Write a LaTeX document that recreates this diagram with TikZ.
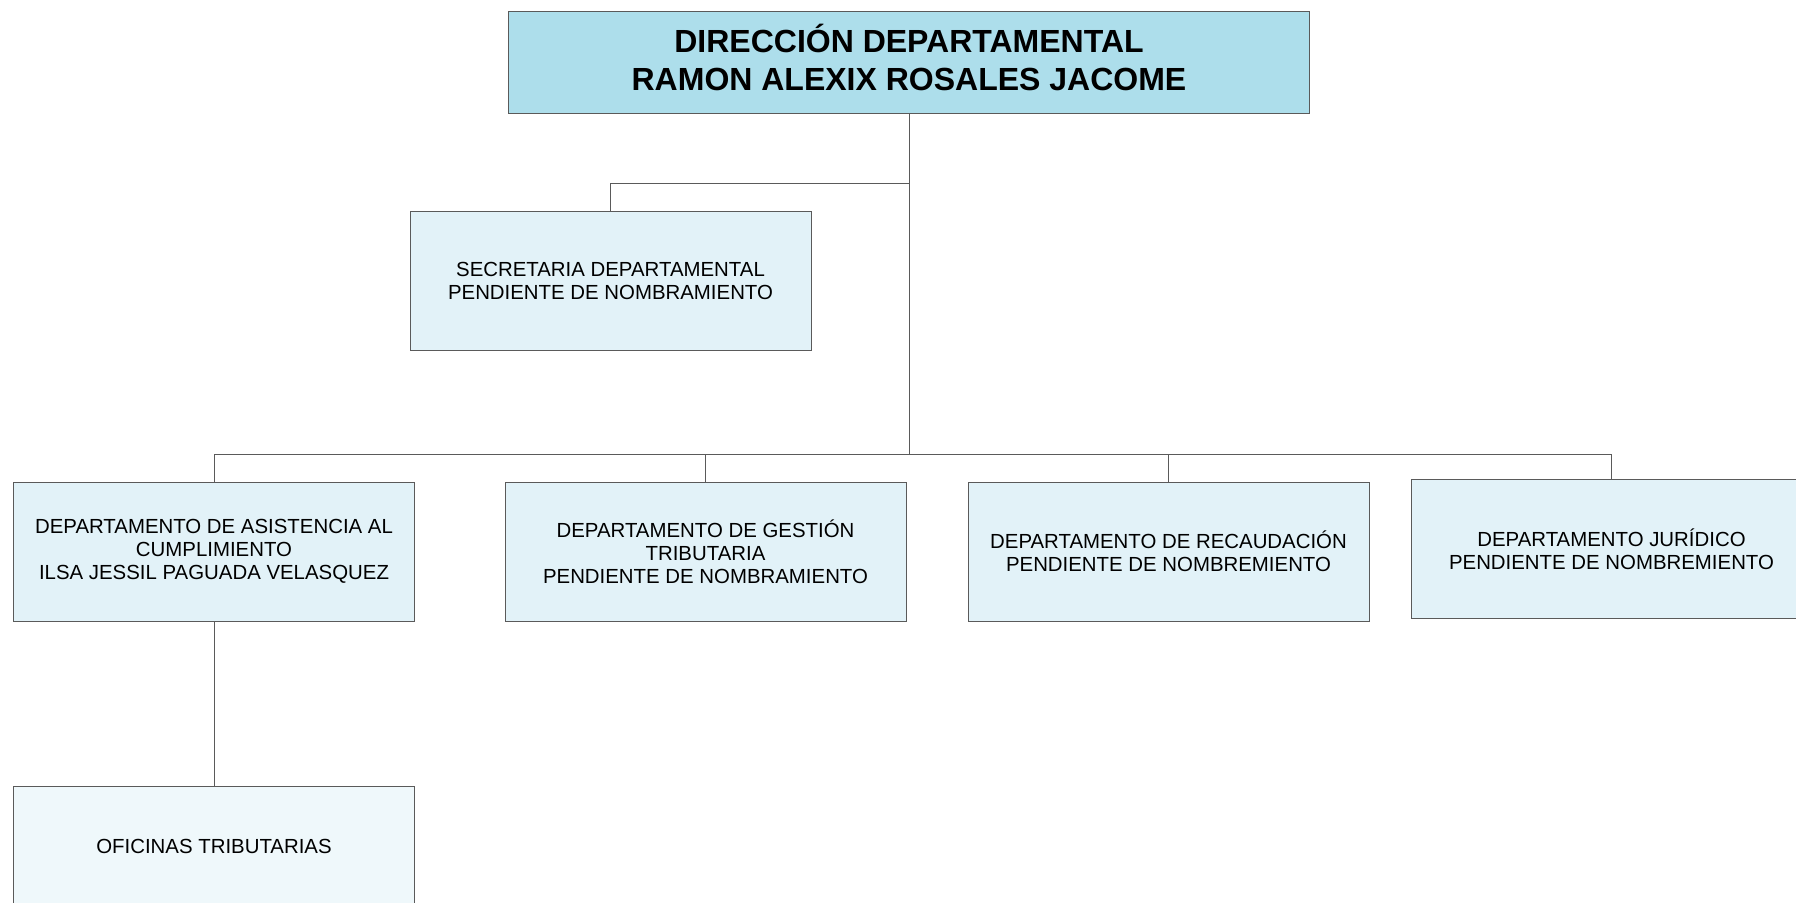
\documentclass[tikz,border=0pt]{standalone}
\usepackage{fontspec}
\setmainfont{Liberation Sans}
\usetikzlibrary{calc}
\tikzset{>=latex}
\definecolor{headblue}{HTML}{ADDEEB}
\definecolor{boxblue}{HTML}{E2F2F8}
\definecolor{paleblue}{HTML}{EFF8FB}
\definecolor{edgegray}{HTML}{5A5A5A}
\tikzset{
  headbox/.style={draw=edgegray, fill=headblue, minimum width=400.3pt, minimum height=51pt,
    align=center, inner sep=0pt, text depth=4.8pt, font=\bfseries\fontsize{16}{19}\selectfont},
  unitbox/.style={draw=edgegray, fill=boxblue, minimum width=200.5pt, minimum height=69.5pt,
    align=center, inner sep=0pt, font=\fontsize{10.2}{11.5}\selectfont},
  link/.style={draw=edgegray, line width=0.5pt}
}

\begin{document}
\begin{tikzpicture}[x=0.5pt,y=-0.5pt]
    \useasboundingbox (0,0) rectangle (1796,902);

    % Head of the office
    \node[headbox] (dir) at (909,62.5) {DIRECCIÓN DEPARTAMENTAL\\RAMON ALEXIX ROSALES JACOME};

    % Secretary
    \node[unitbox] (sec) at (610.5,280.5) {SECRETARIA DEPARTAMENTAL\\PENDIENTE DE NOMBRAMIENTO};

    % Departments
    \node[unitbox] (asis) at (214,551.5) {DEPARTAMENTO DE ASISTENCIA AL\\CUMPLIMIENTO\\ILSA JESSIL PAGUADA VELASQUEZ};
    \node[unitbox] (gest) at (705.5,551.5) {DEPARTAMENTO DE GESTIÓN\\TRIBUTARIA\\PENDIENTE DE NOMBRAMIENTO};
    \node[unitbox] (reca) at (1168.5,551.5) {DEPARTAMENTO DE RECAUDACIÓN\\PENDIENTE DE NOMBREMIENTO};
    \node[unitbox] (juri) at (1611.5,549) {DEPARTAMENTO JURÍDICO\\PENDIENTE DE NOMBREMIENTO};

    % Offices
    \node[unitbox, fill=paleblue, minimum height=60pt, anchor=north] (ofic) at (214,786) {OFICINAS TRIBUTARIAS};

    % Connectors
    \coordinate (secbus) at (909,183.3);
    \coordinate (depbus) at (909,454.7);
    \draw[link] (dir.south) -- (depbus);
    \draw[link] (secbus) -| (sec.north);
    \draw[link] (depbus) -| (asis.north);
    \draw[link] (depbus) -| (gest.north);
    \draw[link] (depbus) -| (reca.north);
    \draw[link] (depbus) -| (juri.north);
    \draw[link] (asis.south) -- (ofic.north);
\end{tikzpicture}
\end{document}
